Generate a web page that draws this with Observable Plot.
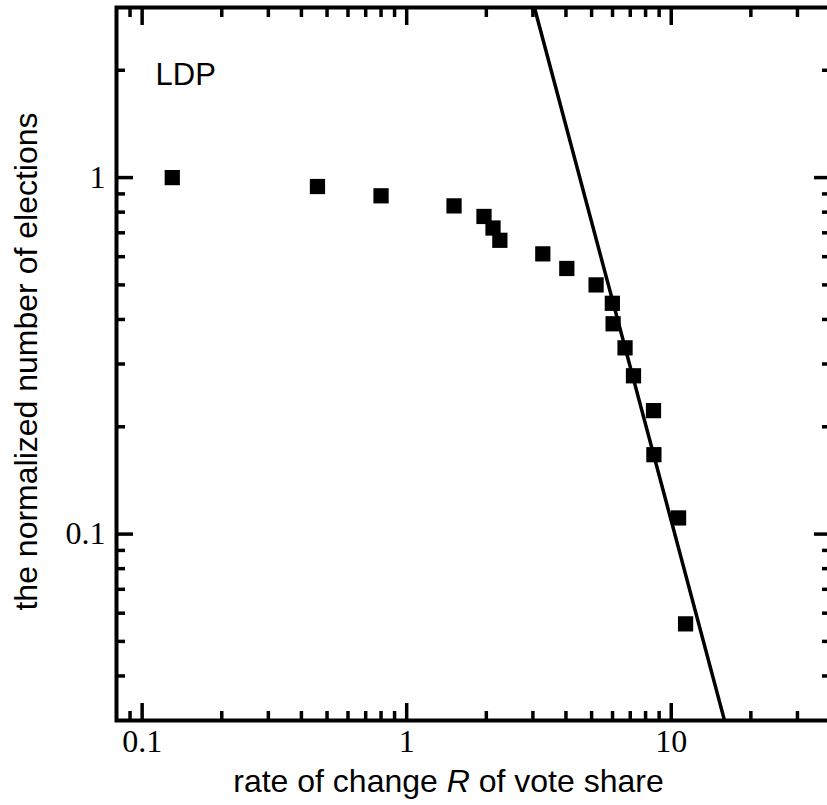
<!DOCTYPE html>
<html>
<head>
<meta charset="utf-8">
<script src="https://cdn.jsdelivr.net/npm/d3@7"></script>
<script src="https://cdn.jsdelivr.net/npm/@observablehq/plot@0.6"></script>
<style>
  html, body { margin: 0; padding: 0; background: #fff; overflow: hidden; }
  #chart { position: relative; width: 827px; height: 805px; overflow: hidden; }
  #chart svg { display: block; max-width: none !important; }
</style>
</head>
<body>
<div id="chart"></div>
<script>
// ---- data ----
const rate  = [0.13, 0.46, 0.80, 1.51, 1.96, 2.12, 2.25, 3.27, 4.03, 5.20, 5.99, 6.03, 6.69, 7.20, 8.57, 8.60, 10.66, 11.33];
const share = [1.0, 0.944, 0.889, 0.833, 0.778, 0.722, 0.667, 0.611, 0.556, 0.5, 0.444, 0.389, 0.333, 0.278, 0.222, 0.167, 0.111, 0.056];
const fitRate  = [3.04, 15.9];
const fitShare = [3.0, 0.03];

const xMajorTicks = [0.1, 1, 10];
const xMinorTicks = [0.09, 0.2, 0.3, 0.4, 0.5, 0.6, 0.7, 0.8, 0.9, 2, 3, 4, 5, 6, 7, 8, 9, 20, 30];
const yMajorTicks = [0.1, 1];
const yMinorTicks = [0.04, 0.05, 0.06, 0.07, 0.08, 0.09, 0.2, 0.3, 0.4, 0.5, 0.6, 0.7, 0.8, 0.9, 2];
const xTickLabels = ["0.1", "1", "10"];
const yTickLabels = ["0.1", "1"];
const partyLabel = "LDP";
const xTitleParts = ["rate of change ", "R", " of vote share"];
const yTitle = "the normalized number of elections";

// ---- tables built from the arrays ----
const points = rate.map((r, i) => ({r, n: share[i]}));
const fit = fitRate.map((r, i) => ({r, n: fitShare[i]}));

const serif = "'Liberation Serif', 'Times New Roman', Times, serif";
const sans = "'Liberation Sans', Arial, Helvetica, sans-serif";
const MAJOR = 17, MINOR = 9, TW = 3.5;

function inwardTicks(axisFn, anchor, values, len) {
  return axisFn(values, {anchor, tickSize: -len, strokeWidth: TW, stroke: "black", fill: "none", label: null, tickFormat: () => ""});
}

const xLabelMap = new Map(xMajorTicks.map((v, i) => [v, xTickLabels[i]]));
const yLabelMap = new Map(yMajorTicks.map((v, i) => [v, yTickLabels[i]]));

const chart = Plot.plot({
  width: 830,
  height: 805,
  marginLeft: 116,
  marginRight: 0,
  marginTop: 7,
  marginBottom: 85,
  style: {background: "#fff", color: "black", overflow: "visible", maxWidth: "none"},
  x: {type: "log", domain: [0.08, 40], axis: null, label: null},
  y: {type: "log", domain: [0.03, 3], axis: null, label: null},
  marks: [
    // inward ticks on all four sides
    inwardTicks(Plot.axisX, "bottom", xMinorTicks, MINOR),
    inwardTicks(Plot.axisX, "bottom", xMajorTicks, MAJOR),
    inwardTicks(Plot.axisX, "top", xMinorTicks, MINOR),
    inwardTicks(Plot.axisX, "top", xMajorTicks, MAJOR),
    inwardTicks(Plot.axisY, "left", yMinorTicks, MINOR),
    inwardTicks(Plot.axisY, "left", yMajorTicks, MAJOR),
    inwardTicks(Plot.axisY, "right", yMinorTicks, MINOR),
    inwardTicks(Plot.axisY, "right", yMajorTicks, MAJOR),
    // tick labels
    Plot.axisX(xMajorTicks, {anchor: "bottom", tickSize: 0, tickPadding: 9, stroke: "none", fill: "black",
      label: null, tickFormat: d => xLabelMap.get(d), fontSize: 32, fontFamily: serif}),
    Plot.axisY(yMajorTicks, {anchor: "left", tickSize: 0, tickPadding: 11, stroke: "none", fill: "black",
      label: null, tickFormat: d => yLabelMap.get(d), fontSize: 32, fontFamily: serif}),
    // fitted power law
    Plot.line(fit, {x: "r", y: "n", stroke: "black", strokeWidth: 3.5, clip: true}),
    // data
    Plot.dot(points, {x: "r", y: "n", symbol: "square", r: 8.6, fill: "black", stroke: "none"}),
    // party label
    Plot.text([partyLabel], {frameAnchor: "top-left", text: d => d, textAnchor: "start", lineAnchor: "top",
      dx: 39, dy: 55, fontSize: 31, fontFamily: sans, fill: "black"}),
    Plot.frame({stroke: "black", strokeWidth: 4})
  ]
});

document.getElementById("chart").appendChild(chart);

// axis titles
const svg = d3.select(chart);
const xt = svg.append("text")
  .attr("x", 448.5).attr("y", 792)
  .attr("text-anchor", "middle")
  .attr("font-family", sans).attr("font-size", 32).attr("fill", "black");
xTitleParts.forEach((t, i) => {
  xt.append("tspan").attr("font-style", i === 1 ? "italic" : "normal").text(t);
});
svg.append("text")
  .attr("transform", "translate(37,361.5) rotate(-90)")
  .attr("text-anchor", "middle")
  .attr("font-family", sans).attr("font-size", 32).attr("fill", "black")
  .text(yTitle);
</script>
</body>
</html>
